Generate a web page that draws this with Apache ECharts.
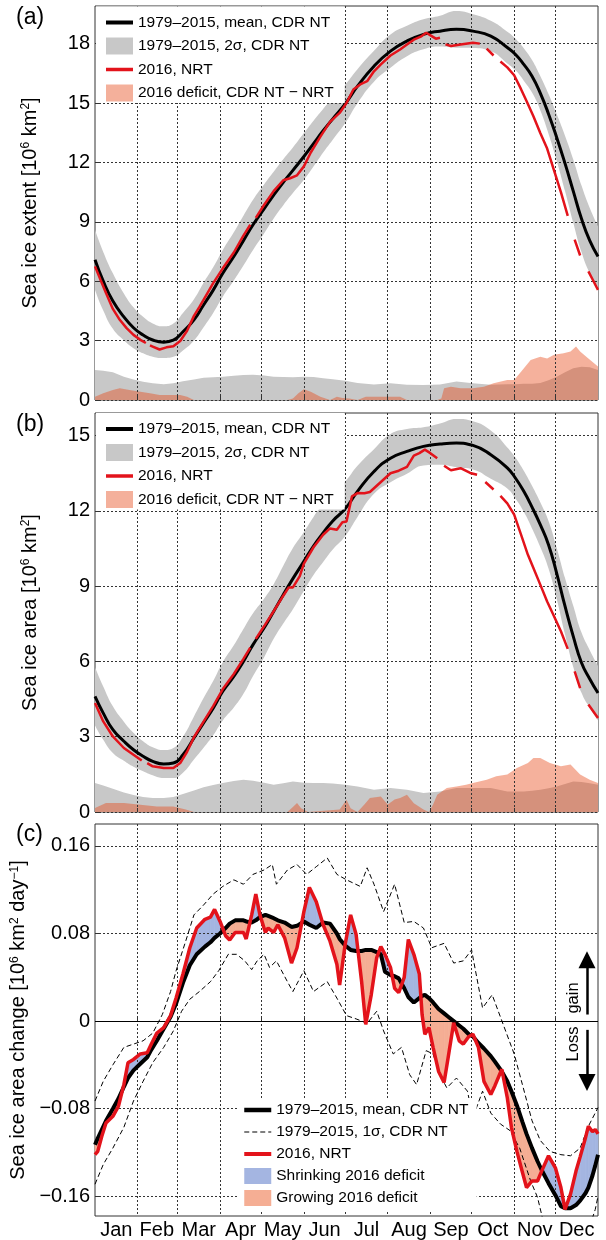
<!DOCTYPE html>
<html><head><meta charset="utf-8">
<script src="https://cdn.jsdelivr.net/npm/echarts@6/dist/echarts.min.js"></script>
<style>html,body{margin:0;padding:0;background:#fff}#c{width:606px;height:1240px}</style>
</head><body><div id="c"></div>
<script>
// ---------- axis / category data ----------
const monthNames = ['Jan','Feb','Mar','Apr','May','Jun','Jul','Aug','Sep','Oct','Nov','Dec'];
const monthStarts = [31,60,91,121,152,182,213,244,274,305,335];
const monthMids = [15.5,45,75.5,106,136.5,167,197.5,228.5,259,289.5,320,350.5];
const ticksA = [0,3,6,9,12,15,18];
const ticksB = [0,3,6,9,12,15];
const ticksC = [-0.16,-0.08,0,0.08,0.16];

// ---------- panel (a): extent ----------
const abDays = [0,6,13,21,28,35,42,50,57,64,72,79,86,93,101,108,115,123,130,137,144,152,159,166,173,182,191,203,215,227,239,251,263,275,288,300,306,312,318,324,330,336,342,348,354,360,366];
const aMean = [7.08,6.0,5.0,4.2,3.65,3.28,3.03,2.92,3.02,3.45,4.05,4.8,5.55,6.4,7.25,8.05,8.85,9.65,10.35,11.0,11.6,12.3,12.95,13.6,14.2,14.95,15.85,16.86,17.62,18.13,18.47,18.63,18.72,18.63,18.38,17.8,17.45,16.95,16.35,15.5,14.45,13.25,11.95,10.55,9.15,8.05,7.25];
const aTwoSigma = [1.52,1.48,1.4,1.18,1.03,0.92,0.84,0.8,0.84,0.95,1.04,1.12,1.15,1.18,1.22,1.26,1.27,1.24,1.18,1.16,1.15,1.18,1.16,1.1,1.05,0.97,0.86,0.78,0.84,0.77,0.76,0.78,0.93,0.85,0.77,0.8,0.8,0.82,0.82,0.86,1.0,1.18,1.4,1.6,1.68,1.65,1.52];
const aNrtDays = [0,4,8,13,18,23,28,33,37,38,40,42,47,52,57,62,67,72,76,81,86,93,101,108,113,115,117,123,130,137,142,147,152,157,164,171,178,183,188,193,198,203,208,215,222,227,232,237,241,245,248,251,252,255,259,266,275,280,282,285,290,292,295,300,305,310,314,319,324,329,334,339,344,346,349,353,356,359,362,366];
const aNrt = [6.75,6.07,5.4,4.6,4.05,3.63,3.29,3.04,2.88,null,2.76,2.7,2.55,2.66,2.72,2.98,3.5,4.25,4.7,5.3,5.9,6.65,7.45,8.3,8.85,null,9.2,9.85,10.55,11.1,11.2,11.35,11.8,12.5,13.3,14.05,14.5,15.0,15.68,15.94,16.1,16.6,16.95,17.4,17.7,17.95,18.2,18.35,18.55,18.38,18.25,18.3,null,17.96,17.88,17.96,18.04,18.0,null,17.75,17.4,null,17.1,16.8,16.4,15.7,15.1,14.33,13.49,12.7,11.6,10.5,9.3,null,8.1,7.3,null,6.5,6.1,5.56];
const aDefDays = [0,6,13,18,25,33,40,47,54,62,67,72,140,144,148,152,157,164,171,176,180,185,191,197,210,222,227,249,252,254,259,266,275,283,290,300,305,310,317,324,329,334,341,346,350,353,359,366];
const aDeficit = [0.17,0.34,0.5,0.59,0.5,0.42,0.34,0.25,0.25,0.25,0.17,0,0,0.08,0.34,0.54,0.42,0.17,0,0.17,0.1,0.08,0,0.17,0.17,0.17,0,0,0.08,0.59,0.67,0.59,0.59,0.67,0.84,1.01,1.01,1.43,2.02,2.19,2.1,2.28,2.36,2.45,2.7,2.45,2.1,1.69];

// ---------- panel (b): area ----------
const bMean = [4.61,3.94,3.28,2.82,2.48,2.22,2.02,1.91,1.95,2.28,2.95,3.55,4.14,4.81,5.4,6.0,6.67,7.33,7.99,8.66,9.3,9.99,10.6,11.12,11.6,12.08,12.78,13.57,14.1,14.37,14.57,14.66,14.7,14.61,14.24,13.71,13.3,12.78,12.15,11.45,10.65,9.5,8.2,7.0,5.95,5.3,4.74];
const bTwoSigma = [1.16,1.06,0.93,0.78,0.68,0.6,0.56,0.56,0.6,0.72,0.86,0.99,1.08,1.16,1.24,1.29,1.25,1.17,1.09,1.15,1.22,1.17,1.16,1.16,1.14,1.09,1.02,0.89,0.96,0.89,0.76,0.82,0.96,0.96,0.96,0.82,0.82,0.82,0.85,0.89,0.95,1.02,1.12,1.22,1.2,1.15,1.09];
const bNrtDays = [0,6,13,21,28,34,36,38,42,50,57,62,67,72,79,86,93,101,108,113,115,117,123,130,137,141,144,149,152,159,166,171,176,180,183,187,191,196,200,205,210,215,221,227,232,236,240,244,249,251,254,259,266,273,278,281,284,290,292,295,300,305,310,315,319,324,329,334,339,344,346,349,353,356,359,366];
const bNrt = [4.34,3.61,3.01,2.55,2.28,2.05,null,1.95,1.82,1.75,1.75,1.95,2.4,2.98,3.6,4.22,4.9,5.5,6.1,6.55,null,6.9,7.4,8.0,8.62,8.95,8.95,9.4,9.9,10.55,11.05,11.3,11.25,11.55,11.58,12.58,12.71,12.7,12.75,13.0,13.25,13.5,13.6,13.75,14.2,14.3,14.44,14.3,14.1,null,13.8,13.62,13.7,13.51,13.44,null,13.15,12.85,null,12.6,12.3,11.85,11.05,10.25,9.72,9.06,8.39,7.8,7.2,6.5,null,5.6,4.94,null,4.28,3.75];
const bDefDays = [0,8,21,33,45,57,66,72,140,144,147,150,155,178,183,186,191,196,200,208,213,218,222,227,232,239,243,246,249,256,263,270,275,285,292,300,307,315,319,324,331,339,346,353,360,366];
const bDeficit = [0.16,0.36,0.36,0.29,0.22,0.22,0.1,0,0,0.2,0.36,0.15,0,0.1,0.49,0.15,0,0.3,0.56,0.62,0.3,0.5,0.56,0.69,0.35,0.1,0,0.3,0.69,0.96,1.02,1.09,1.16,1.29,1.42,1.49,1.75,1.95,2.15,2.15,1.95,1.82,1.89,1.49,1.29,1.16];

// ---------- panel (c): area change ----------
const cDays = [0,2,5,8,13,17,21,24,28,33,38,41,45,50,55,59,64,69,74,80,84,87,91,95,98,102,108,110,114,117,120,124,126,130,133,138,143,147,152,156,161,166,171,176,178,182,186,190,194,197,201,205,208,211,215,218,221,225,228,232,236,238,240,243,246,250,254,257,261,265,268,272,275,279,283,288,291,296,300,303,307,311,314,318,322,325,330,335,339,342,346,350,353,357,359,362,364,366];
const cMean = [-0.113,-0.107,-0.099,-0.091,-0.080,-0.071,-0.060,-0.052,-0.045,-0.039,-0.033,-0.026,-0.018,-0.007,0.004,0.016,0.035,0.051,0.061,0.068,0.072,0.076,0.080,0.085,0.089,0.092,0.092,0.091,0.090,0.092,0.095,0.097,0.096,0.094,0.092,0.090,0.086,0.087,0.091,0.088,0.085,0.090,0.089,0.080,0.075,0.069,0.065,0.064,0.064,0.065,0.065,0.063,0.061,0.045,0.042,0.041,0.039,0.030,0.022,0.017,0.021,0.023,0.024,0.021,0.017,0.011,0.007,0.004,0.000,-0.004,-0.007,-0.012,-0.014,-0.020,-0.025,-0.032,-0.037,-0.046,-0.055,-0.064,-0.077,-0.092,-0.103,-0.116,-0.128,-0.136,-0.148,-0.159,-0.169,-0.171,-0.171,-0.168,-0.164,-0.157,-0.152,-0.141,-0.132,-0.122];
const cNrt = [-0.122,-0.119,-0.105,-0.093,-0.087,-0.078,-0.058,-0.038,-0.035,-0.030,-0.029,-0.021,-0.011,-0.006,0.005,0.021,0.043,0.067,0.085,0.093,0.095,0.102,0.091,0.078,0.074,0.081,0.081,0.075,0.097,0.116,0.097,0.081,0.085,0.081,0.088,0.076,0.053,0.067,0.100,0.122,0.109,0.088,0.073,0.052,0.033,0.070,0.097,0.079,0.036,-0.003,0.024,0.058,0.068,0.061,0.049,0.030,0.026,0.040,0.0745,0.061,0.043,0.006,-0.012,-0.006,-0.024,-0.046,-0.056,-0.033,-0.0015,-0.018,-0.021,-0.014,-0.012,-0.024,-0.055,-0.067,-0.059,-0.044,-0.070,-0.097,-0.119,-0.138,-0.152,-0.146,-0.146,-0.137,-0.123,-0.134,-0.152,-0.172,-0.158,-0.137,-0.124,-0.106,-0.096,-0.101,-0.099,-0.103];
const cUpDays = [0,6,13,21,28,35,42,49,55,59,66,72,79,86,93,101,108,115,123,129,132,140,147,154,161,169,176,183,193,198,203,210,218,225,232,239,245,254,261,268,274,282,289,297,305,311,318,324,331,339,346,353,359,366];
const cUpper = [-0.073,-0.055,-0.040,-0.024,-0.021,-0.018,-0.011,0.006,0.027,0.046,0.073,0.097,0.106,0.116,0.123,0.129,0.125,0.134,0.138,0.143,0.125,0.138,0.143,0.134,0.141,0.149,0.134,0.129,0.123,0.140,0.125,0.100,0.125,0.090,0.091,0.085,0.067,0.071,0.053,0.055,0.065,0.012,0.024,-0.003,-0.030,-0.058,-0.091,-0.109,-0.119,-0.122,-0.123,-0.116,-0.096,-0.079];
const cLoDays = [0,6,13,21,28,35,42,50,57,63,69,76,84,90,97,103,109,114,118,123,127,132,140,144,152,159,169,176,183,190,198,205,210,217,223,229,234,241,246,251,256,263,271,275,282,288,295,302,309,317,322,326,332,345,358,364,366];
const cLower = [-0.149,-0.131,-0.116,-0.097,-0.073,-0.055,-0.038,-0.024,-0.009,0.009,0.020,0.027,0.036,0.046,0.061,0.061,0.055,0.047,0.055,0.061,0.049,0.055,0.036,0.027,0.046,0.027,0.036,0.021,0.005,0.002,-0.002,0.009,-0.009,-0.030,-0.024,-0.049,-0.058,-0.027,-0.030,-0.049,-0.061,-0.052,-0.064,-0.088,-0.064,-0.084,-0.094,-0.100,-0.116,-0.146,-0.161,-0.182,-0.200,-0.210,-0.195,-0.172,-0.160];

// ---------- names ----------
const N_MEAN = '1979–2015, mean, CDR NT';
const N_2S = '1979–2015, 2σ, CDR NT';
const N_1S = '1979–2015, 1σ, CDR NT';
const N_NRT = '2016, NRT';
const N_DEF = '2016 deficit, CDR NT − NRT';
const N_SHR = 'Shrinking 2016 deficit';
const N_GRO = 'Growing 2016 deficit';

// ---------- styling ----------
const FONT = 'Liberation Sans, Arial, Helvetica, sans-serif';
const RED = '#e3131b', GRAY = '#c8c8c8', SALMON = 'rgba(230,70,20,0.42)';
const BLUE = '#a4b5e1', ORANGE = '#f5ae94';
const GRIDLINE = {color:'#333', width:1, type:[2,2]};

const zip = (xs, ys) => xs.map((x, i) => [x, ys[i]]);

function xAxisCfg(gi, showLabels) {
  return {
    type:'value', gridIndex:gi, min:0, max:366, z:2,
    axisLine:{show:false},
    axisTick:{show:true, inside:true, length:4, customValues:monthStarts, lineStyle:{color:'#333'}},
    axisLabel:{show:showLabels, customValues:monthMids, formatter:v => monthNames[monthMids.indexOf(v)] || '',
      fontSize:20, fontFamily:FONT, color:'#000', margin:4},
    splitLine:{show:true, lineStyle:GRIDLINE}
  };
}
function yAxisCfg(gi, min, max, ticks, name, fmt, gap) {
  return {
    type:'value', gridIndex:gi, min, max, z:2,
    axisLine:{show:false},
    axisTick:{show:true, inside:true, length:4, customValues:ticks, lineStyle:{color:'#333'}},
    axisLabel:{customValues:ticks, fontSize:20, fontFamily:FONT, color:'#000', margin:5, formatter:fmt},
    splitLine:{show:true, lineStyle:GRIDLINE},
    name, nameLocation:'middle', nameGap:gap, nameRotate:90,
    nameTextStyle:{fontSize:20, fontFamily:FONT, color:'#000',
      rich:{t:{fontSize:20, fontFamily:FONT, color:'#000'}, s:{fontSize:12, fontFamily:FONT, color:'#000', verticalAlign:'top'}}}
  };
}
function seasonalSeries(gi, mean, sig, nrtDays, nrt, defDays, def, tag) {
  const upper = mean.map((m, i) => m + sig[i]);
  const lower = mean.map((m, i) => m - sig[i]);
  const base = {type:'line', xAxisIndex:gi, yAxisIndex:gi, symbol:'none', animation:false, silent:true};
  return [
    // band = gray under the upper edge, white under the lower edge
    Object.assign({}, base, {name:N_2S, z:1, smooth:true, data:zip(abDays, upper), lineStyle:{width:0}, areaStyle:{color:GRAY, opacity:1}}),
    Object.assign({}, base, {name:tag+'low', z:1, smooth:true, data:zip(abDays, lower), lineStyle:{width:0}, areaStyle:{color:'#fff', opacity:1}}),
    Object.assign({}, base, {name:N_2S, z:1, data:zip(abDays, sig), lineStyle:{width:0}, areaStyle:{color:GRAY, opacity:1}}),
    Object.assign({}, base, {name:N_DEF, z:1, data:zip(defDays, def), lineStyle:{width:0}, areaStyle:{color:SALMON, opacity:1}}),
    Object.assign({}, base, {name:N_MEAN, z:3, smooth:true, data:zip(abDays, mean), lineStyle:{color:'#000', width:3}, itemStyle:{color:'#000'}}),
    Object.assign({}, base, {name:N_NRT, z:4, data:zip(nrtDays, nrt), lineStyle:{color:RED, width:2.5}, itemStyle:{color:RED}})
  ];
}
const lineItem = (name, color, width, type) => ({name, itemStyle:{opacity:0}, lineStyle:Object.assign({color, width}, type ? {type} : {})});
const rectItem = (name, color) => ({name, icon:'rect', itemStyle:{color, borderWidth:0, opacity:1}});

function legendAB(top) {
  return {orient:'vertical', left:96, top, itemWidth:27, itemHeight:17, itemGap:5.5,
    padding:[7,11,1,8], backgroundColor:'#fff', z:10, selectedMode:false,
    textStyle:{fontSize:15.5, fontFamily:FONT, color:'#000', lineHeight:18},
    data:[lineItem(N_MEAN,'#000',4), rectItem(N_2S, GRAY), lineItem(N_NRT, RED, 3.5), rectItem(N_DEF, '#f4b09b')]};
}

const fillData = cDays.slice(0, -1).map((d, i) => [d, cMean[i], cNrt[i], cDays[i+1], cMean[i+1], cNrt[i+1]]);
function renderFill(params, api) {
  const x0 = api.value(0), m0 = api.value(1), n0 = api.value(2);
  const x1 = api.value(3), m1 = api.value(4), n1 = api.value(5);
  const d0 = n0 - m0, d1 = n1 - m1;
  const polys = [];
  if (d0 * d1 >= 0) {
    polys.push({pts:[[x0,m0],[x1,m1],[x1,n1],[x0,n0]], pos:(d0 + d1) > 0});
  } else {
    const t = d0 / (d0 - d1);
    const xc = x0 + t * (x1 - x0), yc = m0 + t * (m1 - m0);
    polys.push({pts:[[x0,m0],[xc,yc],[x0,n0]], pos:d0 > 0});
    polys.push({pts:[[xc,yc],[x1,m1],[x1,n1]], pos:d1 > 0});
  }
  return {type:'group', children:polys.map(p => {
    const c = p.pos ? BLUE : ORANGE;
    return {type:'polygon', shape:{points:p.pts.map(pt => api.coord(pt))}, style:{fill:c, stroke:c, lineWidth:0.7}};
  })};
}

const fmtC = v => v === 0 ? '0' : (v < 0 ? '−' : '') + Math.abs(v).toFixed(2);

const chart = echarts.init(document.getElementById('c'), null, {renderer:'canvas'});
const baseC = {type:'line', xAxisIndex:2, yAxisIndex:2, symbol:'none', animation:false, silent:true};
chart.setOption({
  animation:false,
  backgroundColor:'#fff',
  grid:[
    {left:95, top:6, width:503, height:394, show:true, backgroundColor:'#fff', borderColor:'#333', borderWidth:1},
    {left:95, top:413, width:503, height:399, show:true, backgroundColor:'#fff', borderColor:'#333', borderWidth:1},
    {left:95, top:824, width:503, height:393, show:true, backgroundColor:'#fff', borderColor:'#333', borderWidth:1}
  ],
  xAxis:[xAxisCfg(0,false), xAxisCfg(1,false), xAxisCfg(2,true)],
  yAxis:[
    yAxisCfg(0, 0, 19.9, ticksA, '{t|Sea ice extent [10}{s|6}{t| km}{s|2}{t|]}', null, 55),
    yAxisCfg(1, 0, 15.9, ticksB, '{t|Sea ice area [10}{s|6}{t| km}{s|2}{t|]}', null, 55),
    yAxisCfg(2, -0.178, 0.18, ticksC, '{t|Sea ice area change [10}{s|6}{t| km}{s|2}{t| day}{s|−1}{t|]}', fmtC, 50)
  ],
  legend:[
    legendAB(6.5),
    legendAB(413),
    {orient:'vertical', left:238, top:1098, itemWidth:27, itemHeight:16, itemGap:4,
      padding:[3,4,5,4], backgroundColor:'#fff', z:10, selectedMode:false,
      textStyle:{fontSize:15.5, fontFamily:FONT, color:'#000', lineHeight:18},
      data:[lineItem(N_MEAN+' ', '#000', 4.5), lineItem(N_1S, '#000', 1.2, [5,3]), lineItem(N_NRT+' ', RED, 4),
            rectItem(N_SHR, BLUE), rectItem(N_GRO, ORANGE)]}
  ],
  series:[
    ...seasonalSeries(0, aMean, aTwoSigma, aNrtDays, aNrt, aDefDays, aDeficit, 'a'),
    ...seasonalSeries(1, bMean, bTwoSigma, bNrtDays, bNrt, bDefDays, bDeficit, 'b'),
    {type:'custom', name:N_SHR, xAxisIndex:2, yAxisIndex:2, z:1, silent:true, animation:false,
      itemStyle:{color:BLUE}, renderItem:renderFill, data:fillData, encode:{x:[0,3], y:[1,2,4,5]}},
    Object.assign({}, baseC, {name:N_GRO, data:[], itemStyle:{color:ORANGE}}),
    Object.assign({}, baseC, {name:N_1S, z:3, data:zip(cUpDays, cUpper), lineStyle:{color:'#000', width:1, type:[5,3]}, itemStyle:{color:'#000'},
      markLine:{silent:true, animation:false, symbol:['none','triangle'], symbolSize:17, label:{show:false},
        lineStyle:{color:'#000', width:2.5, type:'solid'},
        data:[[{coord:[358,0.006]},{coord:[358,0.056]}],[{coord:[358,-0.008]},{coord:[358,-0.056]}]]}}),
    Object.assign({}, baseC, {name:N_1S, z:3, data:zip(cLoDays, cLower), lineStyle:{color:'#000', width:1, type:[5,3]}, itemStyle:{color:'#000'},
      markLine:{silent:true, animation:false, symbol:['none','none'], label:{show:false},
        lineStyle:{color:'#000', width:1, type:'solid'}, data:[{yAxis:0}]}}),
    Object.assign({}, baseC, {name:N_MEAN+' ', z:4, data:zip(cDays, cMean), lineStyle:{color:'#000', width:4}, itemStyle:{color:'#000'}}),
    Object.assign({}, baseC, {name:N_NRT+' ', z:5, data:zip(cDays, cNrt), lineStyle:{color:RED, width:3.5}, itemStyle:{color:RED}})
  ],
  graphic:[
    {type:'text', x:16, y:18, z:20, style:{text:'(a)', font:'23px '+FONT, fill:'#000', align:'left', verticalAlign:'middle', textAlign:'left', textVerticalAlign:'middle'}},
    {type:'text', x:16, y:425, z:20, style:{text:'(b)', font:'23px '+FONT, fill:'#000', align:'left', verticalAlign:'middle', textAlign:'left', textVerticalAlign:'middle'}},
    {type:'text', x:16, y:835, z:20, style:{text:'(c)', font:'23px '+FONT, fill:'#000', align:'left', verticalAlign:'middle', textAlign:'left', textVerticalAlign:'middle'}},
    {type:'text', x:573, y:998, rotation:Math.PI/2, z:20, style:{text:'gain', font:'16.5px '+FONT, fill:'#000', align:'center', verticalAlign:'middle', textAlign:'center', textVerticalAlign:'middle'}},
    {type:'text', x:573, y:1044, rotation:Math.PI/2, z:20, style:{text:'Loss', font:'16.5px '+FONT, fill:'#000', align:'center', verticalAlign:'middle', textAlign:'center', textVerticalAlign:'middle'}}
  ]
});
</script>
</body></html>
